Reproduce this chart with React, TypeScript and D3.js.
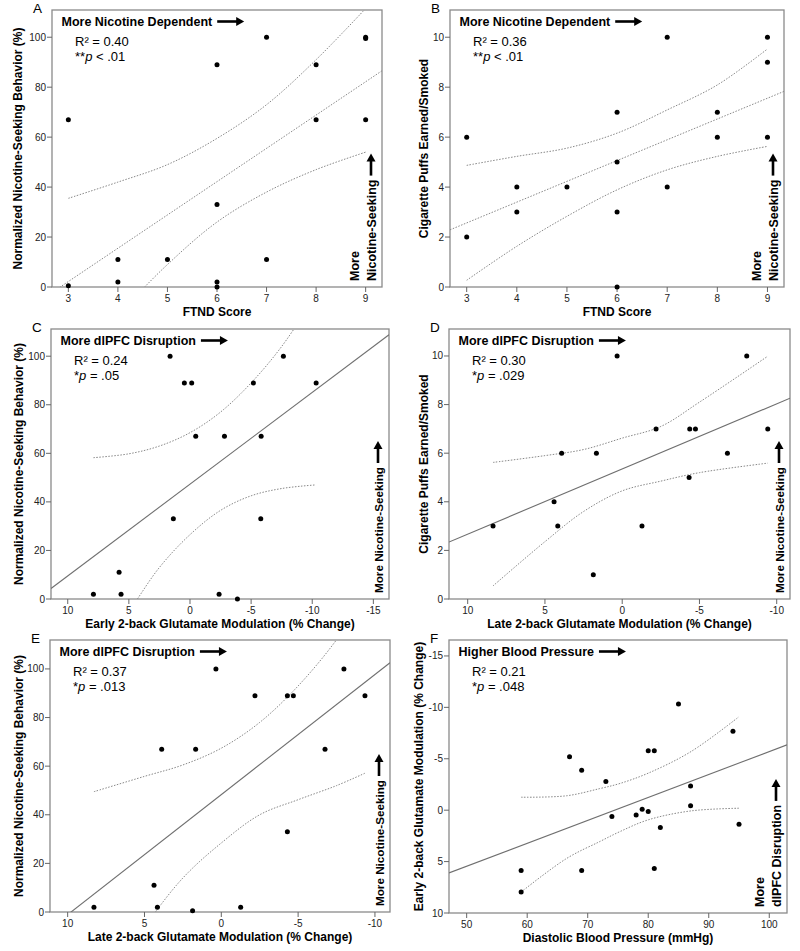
import React from "react";
import * as d3 from "d3";

// ---------------- Data ----------------
// Panel A: FTND vs Normalized Nicotine-Seeking
const aFtnd = [3, 3, 4, 4, 5, 6, 6, 6, 6, 7, 7, 8, 8, 9, 9, 9];
const aSeeking = [67, 0.5, 11, 2, 11, 89, 33, 2, 0, 100, 11, 89, 67, 100, 99.5, 67];
const aFit = [-37.8, 13.33]; // intercept, slope
const aBandX = [3, 4, 5, 6, 7, 8, 9];
const aUpper = [35.5, 42, 49, 59.5, 73, 91, 111.5];
const aLower = [-31, -11, 9, 26, 38, 47, 54];
const aXTicks = [3, 4, 5, 6, 7, 8, 9];
const aYTicks = [0, 20, 40, 60, 80, 100];

// Panel B: FTND vs Cigarette Puffs
const bFtnd = [3, 3, 4, 4, 5, 6, 6, 6, 6, 7, 7, 8, 8, 9, 9, 9];
const bPuffs = [6, 2, 4, 3, 4, 7, 5, 3, 0, 10, 4, 7, 6, 10, 9, 6];
const bFit = [0.07, 0.832];
const bBandX = [3, 4, 5, 6, 7, 8, 9];
const bUpper = [4.87, 5.23, 5.56, 6.16, 7.09, 8.09, 9.53];
const bLower = [0.27, 1.63, 2.83, 3.89, 4.69, 5.23, 5.63];
const bXTicks = [3, 4, 5, 6, 7, 8, 9];
const bYTicks = [0, 2, 4, 6, 8, 10];

// Panel C: Early 2-back Glutamate vs Normalized Nicotine-Seeking
const cEarly = [1.63, 0.46, -0.14, -5.19, -10.32, -7.64, -0.47, -2.82, -5.82, 1.36, -5.79, 5.8, 7.9, 5.64, -2.38, -3.88];
const cSeeking = [100, 89, 89, 89, 89, 100, 67, 67, 67, 33, 33, 11, 2, 2, 2, 0];
const cFit = [47.3, -3.78];
const cBandX = [7.9, 5, 2.5, 0, -2.5, -5, -7.5, -10.3];
const cUpper = [58.2, 59.8, 63, 68.5, 77, 89, 104, 125];
const cLower = [-23.4, -5, 13, 26.5, 36.5, 42.5, 45.5, 47];
const cXTicks = [10, 5, 0, -5, -10, -15];
const cYTicks = [0, 20, 40, 60, 80, 100];

// Panel D: Late 2-back Glutamate vs Cigarette Puffs
const dLate = [0.33, -8.06, -2.19, -4.37, -4.74, -9.42, 3.92, 1.67, -6.81, -4.33, 4.41, 8.36, 4.17, -1.28, 1.87];
const dPuffs = [10, 10, 7, 7, 7, 7, 6, 6, 6, 5, 4, 3, 3, 3, 1];
const dFit = [5.35, -0.268];
const dBandX = [8.36, 5, 2.5, 0, -2.5, -5, -9.42];
const dUpper = [5.62, 5.9, 6.15, 6.62, 7.1, 8.1, 9.99];
const dLower = [0.54, 2.36, 3.6, 4.45, 4.85, 5.2, 5.59];
const dXTicks = [10, 5, 0, -5, -10];
const dYTicks = [0, 2, 4, 6, 8, 10];

// Panel E: Late 2-back Glutamate vs Normalized Nicotine-Seeking
const eLate = [0.35, -7.98, -2.19, -4.3, -4.69, -9.35, 3.88, 1.67, -6.75, -4.3, 4.38, 8.29, 4.16, -1.26, 1.87];
const eSeeking = [100, 100, 89, 89, 89, 89, 67, 67, 67, 33, 11, 2, 2, 2, 0.5];
const eFit = [48.3, -4.94];
const eBandX = [8.29, 5, 2.5, 0, -2.5, -5, -7.5, -9.35];
const eUpper = [49.5, 55.8, 60.5, 67.4, 78, 93, 112, 130];
const eLower = [-35, -6, 14, 28.4, 40, 46.2, 52, 57.1];
const eXTicks = [10, 5, 0, -5, -10];
const eYTicks = [0, 20, 40, 60, 80, 100];

// Panel F: Diastolic BP vs Early 2-back Glutamate
const fBP = [59, 59, 67, 69, 69, 73, 74, 78, 79, 80, 80, 81, 81, 82, 85, 87, 87, 94, 95];
const fEarly = [5.86, 7.96, -5.2, -3.88, 5.86, -2.78, 0.62, 0.46, -0.1, -5.79, 0.13, -5.79, 5.67, 1.69, -10.32, -2.36, -0.42, -7.67, 1.36];
const fFit = [16.6, -0.223];
const fBandX = [59, 66.5, 72, 75.34, 80, 87.07, 95];
const fUpper = [-1.26, -1.4, -2.1, -2.6, -3.6, -5.7, -9.09];
const fLower = [7.96, 4.7, 3.05, 2.08, 0.94, 0.07, -0.19];
const fXTicks = [50, 60, 70, 80, 90, 100];
const fYTicks = [-15, -10, -5, 0, 5, 10];

// Text
const panelLetters = ["A", "B", "C", "D", "E", "F"];
const headers = [
  "More Nicotine Dependent",
  "More Nicotine Dependent",
  "More dlPFC Disruption",
  "More dlPFC Disruption",
  "More dlPFC Disruption",
  "Higher Blood Pressure",
];
const rSquared = ["0.40", "0.36", "0.24", "0.30", "0.37", "0.21"];
const pStars = ["**", "**", "*", "*", "*", "*"];
const pRest = [" < .01", " < .01", " = .05", " = .029", " = .013", " = .048"];
const xTitles = [
  "FTND Score",
  "FTND Score",
  "Early 2-back Glutamate Modulation (% Change)",
  "Late 2-back Glutamate Modulation (% Change)",
  "Late 2-back Glutamate Modulation (% Change)",
  "Diastolic Blood Pressure (mmHg)",
];
const yTitles = [
  "Normalized Nicotine-Seeking Behavior (%)",
  "Cigarette Puffs Earned/Smoked",
  "Normalized Nicotine-Seeking Behavior (%)",
  "Cigarette Puffs Earned/Smoked",
  "Normalized Nicotine-Seeking Behavior (%)",
  "Early 2-back Glutamate Modulation (% Change)",
];
const sideLabels = [
  ["More", "Nicotine-Seeking"],
  ["More", "Nicotine-Seeking"],
  ["More Nicotine-Seeking"],
  ["More Nicotine-Seeking"],
  ["More Nicotine-Seeking"],
  ["More", "dlPFC Disruption"],
];

// ---------------- Layout ----------------
const FONT = "'Liberation Sans', Arial, Helvetica, sans-serif";

type Box = { x0: number; y0: number; x1: number; y1: number };
const layouts: { box: Box; xDom: [number, number]; yDom: [number, number]; yTitleOff: number }[] = [
  { box: { x0: 52, y0: 10, x1: 382, y1: 287 }, xDom: [2.67, 9.33], yDom: [0, 110.9], yTitleOff: 30 },
  { box: { x0: 450, y0: 10, x1: 784, y1: 287 }, xDom: [2.667, 9.33], yDom: [0, 11.09], yTitleOff: 22 },
  { box: { x0: 51, y0: 329, x1: 389, y1: 599 }, xDom: [11.37, -16.28], yDom: [0, 111.2], yTitleOff: 28 },
  { box: { x0: 449, y0: 329, x1: 790, y1: 599 }, xDom: [11.21, -10.86], yDom: [0, 11.11], yTitleOff: 21 },
  { box: { x0: 50, y0: 640, x1: 390, y1: 912 }, xDom: [11.15, -10.98], yDom: [0, 111.9], yTitleOff: 27 },
  { box: { x0: 449, y0: 640, x1: 787, y1: 913 }, xDom: [47.08, 102.93], yDom: [10, -16.55], yTitleOff: 26 },
];

const panelData = [
  { xs: aFtnd, ys: aSeeking, fit: aFit, bandX: aBandX, upper: aUpper, lower: aLower, xTicks: aXTicks, yTicks: aYTicks, dottedFit: true },
  { xs: bFtnd, ys: bPuffs, fit: bFit, bandX: bBandX, upper: bUpper, lower: bLower, xTicks: bXTicks, yTicks: bYTicks, dottedFit: true },
  { xs: cEarly, ys: cSeeking, fit: cFit, bandX: cBandX, upper: cUpper, lower: cLower, xTicks: cXTicks, yTicks: cYTicks, dottedFit: false },
  { xs: dLate, ys: dPuffs, fit: dFit, bandX: dBandX, upper: dUpper, lower: dLower, xTicks: dXTicks, yTicks: dYTicks, dottedFit: false },
  { xs: eLate, ys: eSeeking, fit: eFit, bandX: eBandX, upper: eUpper, lower: eLower, xTicks: eXTicks, yTicks: eYTicks, dottedFit: false },
  { xs: fBP, ys: fEarly, fit: fFit, bandX: fBandX, upper: fUpper, lower: fLower, xTicks: fXTicks, yTicks: fYTicks, dottedFit: false },
];

let measureCtx: CanvasRenderingContext2D | null = null;
function textWidth(s: string, font: string): number {
  if (!measureCtx && typeof document !== "undefined") {
    measureCtx = document.createElement("canvas").getContext("2d");
  }
  if (!measureCtx) return s.length * 7;
  measureCtx.font = font;
  return measureCtx.measureText(s).width;
}

function HArrow({ x, y, len }: { x: number; y: number; len: number }) {
  const head = 8;
  const hw = 4.5;
  return (
    <g>
      <line x1={x} y1={y} x2={x + len - head + 1} y2={y} stroke="#000" strokeWidth={2.6} />
      <path d={`M${x + len},${y} L${x + len - head},${y - hw} L${x + len - head},${y + hw} Z`} fill="#000" />
    </g>
  );
}

function VArrow({ x, y, len }: { x: number; y: number; len: number }) {
  // y = tail (bottom), arrow points up
  const head = 8;
  const hw = 4.5;
  return (
    <g>
      <line x1={x} y1={y} x2={x} y2={y - len + head - 1} stroke="#000" strokeWidth={2.6} />
      <path d={`M${x},${y - len} L${x - hw},${y - len + head} L${x + hw},${y - len + head} Z`} fill="#000" />
    </g>
  );
}

function Panel({ i }: { i: number }) {
  const { box, xDom, yDom, yTitleOff } = layouts[i];
  const d = panelData[i];
  const x = d3.scaleLinear().domain(xDom).range([box.x0, box.x1]);
  const y = d3.scaleLinear().domain(yDom).range([box.y1, box.y0]);
  const clipId = `clip-${i}`;

  const band = d3
    .line<[number, number]>()
    .x((p) => x(p[0]))
    .y((p) => y(p[1]))
    .curve(d3.curveCatmullRom.alpha(0.5));
  const upperPts = d.bandX.map((v, k) => [v, d.upper[k]] as [number, number]);
  const lowerPts = d.bandX.map((v, k) => [v, d.lower[k]] as [number, number]);

  const fitLine = d3
    .line<number>()
    .x((v) => x(v))
    .y((v) => y(d.fit[0] + d.fit[1] * v));

  const headerFont = `bold 12.5px ${FONT}`;
  const headerX = box.x0 + 9.5;
  const headerY = box.y0 + 16;
  const hw = textWidth(headers[i], headerFont);

  const side = sideLabels[i];
  const sideBottom = box.y1 - 6;
  const sideSize = side.length === 2 ? 12.5 : 11.7;
  const sideFont = `bold ${sideSize}px ${FONT}`;
  const longSide = side[side.length - 1];
  const longW = textWidth(longSide, sideFont);
  const arrowX = box.x1 - 11;

  const midY = (box.y0 + box.y1) / 2;
  const midX = (box.x0 + box.x1) / 2;

  return (
    <g>
      <defs>
        <clipPath id={clipId}>
          <rect x={box.x0} y={box.y0} width={box.x1 - box.x0} height={box.y1 - box.y0} />
        </clipPath>
      </defs>
      {/* frame */}
      <rect x={box.x0} y={box.y0} width={box.x1 - box.x0} height={box.y1 - box.y0} fill="none" stroke="#8a8a8a" strokeWidth={1.3} />
      {/* ticks */}
      {d.yTicks.map((t) => (
        <g key={`yt${t}`}>
          <line x1={box.x0 - 5} x2={box.x0} y1={y(t)} y2={y(t)} stroke="#666" strokeWidth={1} />
          <text x={box.x0 - 6} y={y(t) + 3.5} textAnchor="end" fontSize={10} fontFamily={FONT} fill="#222">
            {t}
          </text>
        </g>
      ))}
      {d.xTicks.map((t) => (
        <g key={`xt${t}`}>
          <line x1={x(t)} x2={x(t)} y1={box.y1} y2={box.y1 + 5} stroke="#666" strokeWidth={1} />
          <text x={x(t)} y={box.y1 + 15} textAnchor="middle" fontSize={10} fontFamily={FONT} fill="#222">
            {t}
          </text>
        </g>
      ))}
      {/* regression + bands */}
      <g clipPath={`url(#${clipId})`}>
        <path
          d={fitLine(xDom) || ""}
          fill="none"
          stroke={d.dottedFit ? "#888" : "#6f6f6f"}
          strokeWidth={d.dottedFit ? 1 : 1.1}
          strokeDasharray={d.dottedFit ? "1.5,1.5" : undefined}
        />
        <path d={band(upperPts) || ""} fill="none" stroke="#888" strokeWidth={1} strokeDasharray="1.5,1.5" />
        <path d={band(lowerPts) || ""} fill="none" stroke="#888" strokeWidth={1} strokeDasharray="1.5,1.5" />
      </g>
      {/* points */}
      {d.xs.map((v, k) => (
        <circle key={`p${k}`} cx={x(v)} cy={y(d.ys[k])} r={2.5} fill="#000" />
      ))}
      {/* panel letter */}
      <text x={box.x0 - 19} y={box.y0 + 3} fontSize={13.5} fontFamily={FONT} fill="#000">
        {panelLetters[i]}
      </text>
      {/* header */}
      <text x={headerX} y={headerY} fontSize={12.5} fontWeight="bold" fontFamily={FONT} fill="#000">
        {headers[i]}
      </text>
      <HArrow x={headerX + hw + 5} y={headerY - 4.5} len={27} />
      {/* stats */}
      <text x={box.x0 + 23} y={box.y0 + 36} fontSize={13} fontFamily={FONT} fill="#000">
        {`R² = ${rSquared[i]}`}
      </text>
      <text x={box.x0 + 23} y={box.y0 + 51} fontSize={13} fontFamily={FONT} fill="#000">
        {pStars[i]}
        <tspan fontStyle="italic">p</tspan>
        {pRest[i]}
      </text>
      {/* side label */}
      {side.map((s, k) => {
        const bx = side.length === 2 ? (k === 0 ? box.x1 - 23 : box.x1 - 6) : box.x1 - 6;
        return (
          <text
            key={`s${k}`}
            transform={`translate(${bx},${sideBottom}) rotate(-90)`}
            fontSize={sideSize}
            fontWeight="bold"
            fontFamily={FONT}
            fill="#000"
          >
            {s}
          </text>
        );
      })}
      <VArrow x={arrowX} y={sideBottom - longW - 4} len={22} />
      {/* axis titles */}
      <text x={midX} y={box.y1 + 29} textAnchor="middle" fontSize={12} fontWeight="bold" fontFamily={FONT} fill="#000">
        {xTitles[i]}
      </text>
      <text
        transform={`translate(${box.x0 - yTitleOff},${midY}) rotate(-90)`}
        textAnchor="middle"
        fontSize={12}
        fontWeight="bold"
        fontFamily={FONT}
        fill="#000"
      >
        {yTitles[i]}
      </text>
    </g>
  );
}

export default function App() {
  return (
    <svg
      width={800}
      height={951}
      viewBox="0 0 800 951"
      style={{ position: "absolute", left: 0, top: 0, background: "#fff" }}
    >
      <rect x={0} y={0} width={800} height={951} fill="#fff" />
      {layouts.map((_, i) => (
        <Panel key={i} i={i} />
      ))}
    </svg>
  );
}
